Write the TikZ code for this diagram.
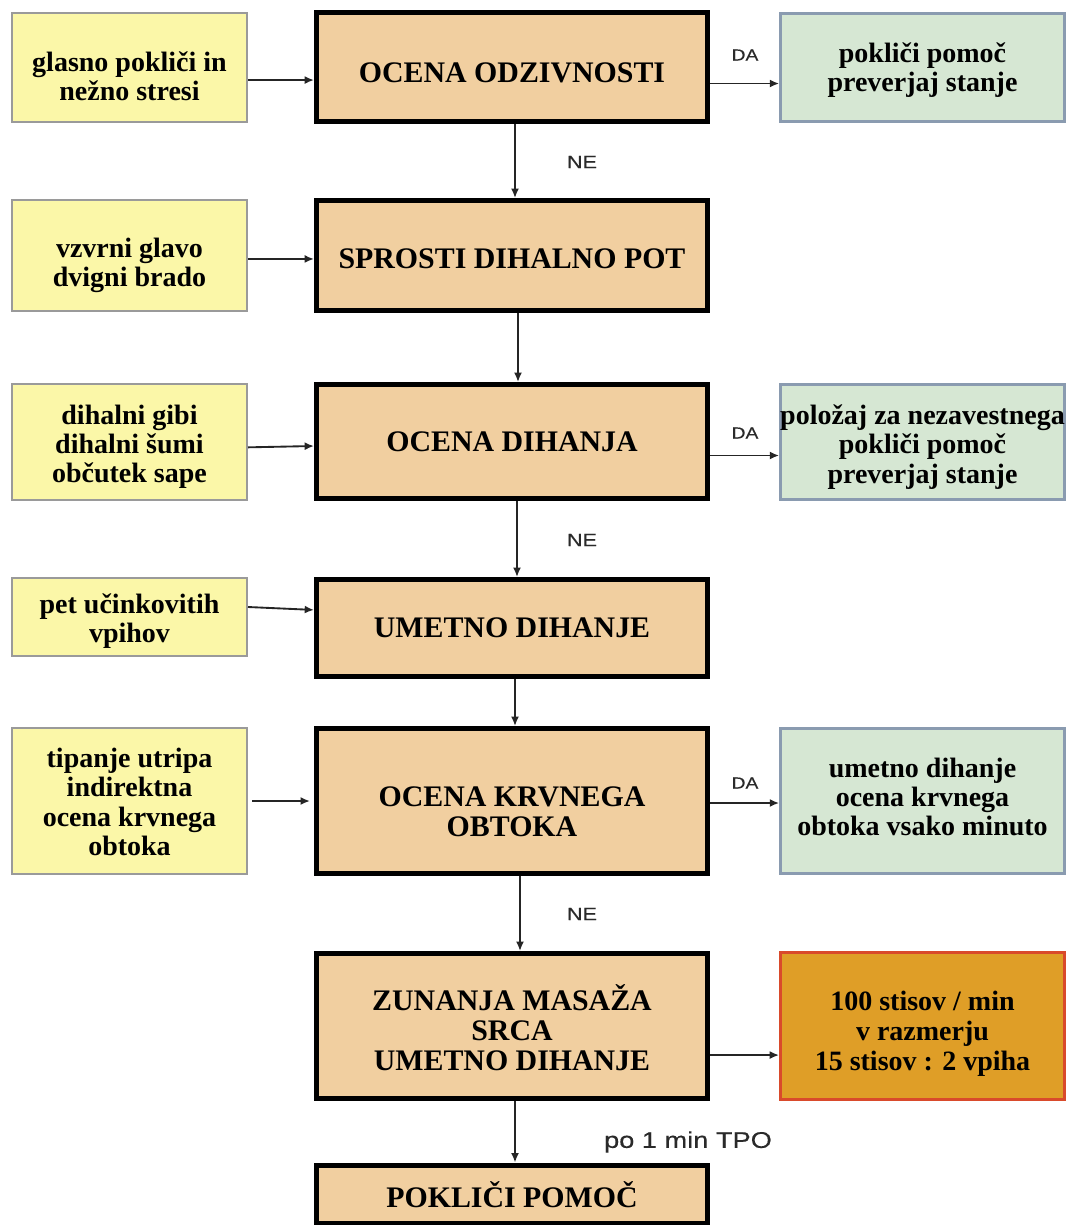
\documentclass[tikz,border=0pt]{standalone}
\usepackage{fontspec}
\setmainfont{Liberation Serif}
\newfontfamily\lblfont[FakeStretch=1.2,FakeBold=0.4]{Liberation Sans}
\usetikzlibrary{arrows.meta}
\definecolor{mainfill}{HTML}{F1CFA0}
\definecolor{yelfill}{HTML}{FBF7A8}
\definecolor{yelline}{HTML}{9A9A9A}
\definecolor{grnfill}{HTML}{D6E7D3}
\definecolor{grnline}{HTML}{8A9BB0}
\definecolor{orgfill}{HTML}{DF9E27}
\definecolor{orgline}{HTML}{D94A2B}
\definecolor{arrcol}{HTML}{252525}
\definecolor{lblcol}{HTML}{2A2A2A}
\begin{document}
\begin{tikzpicture}[x=0.75pt,y=-0.75pt,
  mainbox/.style={draw=black, line width=3.75pt, fill=mainfill, inner sep=0pt, minimum width={391*0.75pt}},
  yelbox/.style={draw=yelline, line width=1.5pt, fill=yelfill, inner sep=0pt, minimum width={235*0.75pt}},
  grnbox/.style={draw=grnline, line width=2pt, fill=grnfill, inner sep=0pt, minimum width={284*0.75pt}},
  orgbox/.style={draw=orgline, line width=2.2pt, fill=orgfill, inner sep=0pt, minimum width={284*0.75pt}},
  maintxt/.style={align=center, inner sep=0pt, font=\fontsize{22.4}{22.5}\selectfont\bfseries},
  smalltxt/.style={align=center, inner sep=0pt, font=\fontsize{21}{21.9}\selectfont\bfseries},
  orgtxt/.style={align=center, inner sep=0pt, font=\fontsize{21}{22.5}\selectfont\bfseries},
  arr/.style={draw=arrcol, line width=1.4pt, -{Latex[length=7pt,width=6pt]}},
  lbl/.style={text=lblcol, inner sep=0pt, font=\lblfont\fontsize{12}{12}\selectfont},
  lblne/.style={text=lblcol, inner sep=0pt, font=\lblfont\fontsize{13.5}{13.5}\selectfont},
  lbltpo/.style={text=lblcol, inner sep=0pt, font=\lblfont\fontsize{17}{17}\selectfont},
]
\path[use as bounding box, fill=white] (0,0) rectangle (1067,1225);

% main column boxes
\node[mainbox, minimum height={109*0.75pt}] (m1) at (512,67) {};
\node[mainbox, minimum height={110*0.75pt}] (m2) at (512,255.5) {};
\node[mainbox, minimum height={114*0.75pt}] (m3) at (512,441.5) {};
\node[mainbox, minimum height={97*0.75pt}] (m4) at (512,628) {};
\node[mainbox, minimum height={145*0.75pt}] (m5) at (512,801) {};
\node[mainbox, minimum height={145*0.75pt}] (m6) at (512,1026) {};
\node[mainbox, minimum height={58*0.75pt}] (m7) at (512,1194) {};
\node[maintxt] (m1t) at ([yshift=-4.5pt]m1.center) {OCENA ODZIVNOSTI};
\node[maintxt] (m2t) at ([yshift=-2.25pt]m2.center) {SPROSTI DIHALNO POT};
\node[maintxt] (m3t) at (m3.center) {OCENA DIHANJA};
\node[maintxt] (m4t) at (m4.center) {UMETNO DIHANJE};
\node[maintxt] (m5t) at ([yshift=-8.25pt]m5.center) {OCENA KRVNEGA\\OBTOKA};
\node[maintxt] (m6t) at ([yshift=-1.5pt]m6.center) {ZUNANJA MASAŽA\\SRCA\\UMETNO DIHANJE};
\node[maintxt] (m7t) at ([yshift=-0.75pt]m7.center) {POKLIČI POMOČ};

% left column
\node[yelbox, minimum height={109*0.75pt}] (l1) at (129.5,67.5) {};
\node[yelbox, minimum height={111*0.75pt}] (l2) at (129.5,255.5) {};
\node[yelbox, minimum height={116*0.75pt}] (l3) at (129.5,442) {};
\node[yelbox, minimum height={78*0.75pt}] (l4) at (129.5,617) {};
\node[yelbox, minimum height={146*0.75pt}] (l5) at (129.5,801) {};
\node[smalltxt] (l1t) at ([yshift=-6.75pt]l1.center) {glasno pokliči in\\nežno stresi};
\node[smalltxt] (l2t) at ([yshift=-7.5pt]l2.center) {vzvrni glavo\\dvigni brado};
\node[smalltxt] (l3t) at ([yshift=-3.75pt]l3.center) {dihalni gibi\\dihalni šumi\\občutek sape};
\node[smalltxt] (l4t) at ([yshift=-3pt]l4.center) {pet učinkovitih\\vpihov};
\node[smalltxt] (l5t) at ([yshift=-0.75pt]l5.center) {tipanje utripa\\indirektna\\ocena krvnega\\obtoka};

% right column
\node[grnbox, minimum height={108*0.75pt}] (g1) at (922.5,67.5) {};
\node[grnbox, minimum height={115*0.75pt}] (g2) at (922.5,442) {};
\node[grnbox, minimum height={145*0.75pt}] (g3) at (922.5,801) {};
\node[orgbox, minimum height={147*0.75pt}] (o1) at (922.5,1026) {};
\node[smalltxt] (g1t) at ([yshift=-2.25pt]g1.center) {pokliči pomoč\\preverjaj stanje};
\node[smalltxt] (g2t) at ([yshift=-3.75pt]g2.center) {položaj za nezavestnega\\pokliči pomoč\\preverjaj stanje};
\node[smalltxt] (g3t) at ([yshift=3pt]g3.center) {umetno dihanje\\ocena krvnega\\obtoka vsako minuto};
\node[orgtxt] (o1t) at ([yshift=-5.5pt]o1.center) {100 stisov / min\\v razmerju\\15 stisov : 2 vpiha};

% left arrows
\draw[arr] ([yshift=-9.4pt]l1.east) -- ([yshift=-9.4pt]l1.east -| m1.west);
\draw[arr] ([yshift=-2.6pt]l2.east) -- ([yshift=-2.6pt]l2.east -| m2.west);
\draw[arr] ([yshift=-4pt]l3.east) -- ([yshift=-3pt]l3.east -| m3.west);
\draw[arr] ([yshift=7.5pt]l4.east) -- ([yshift=5.3pt]l4.east -| m4.west);
\draw[arr, shorten <=3pt, shorten >=3pt] (l5.east) -- (l5.east -| m5.west);

% right arrows
\draw[arr] ([yshift=-12.4pt]m1.east) -- ([yshift=-12.4pt]m1.east -| g1.west);
\draw[arr] ([yshift=-10.5pt]m3.east) -- ([yshift=-10.5pt]m3.east -| g2.west);
\draw[arr] ([yshift=-1.5pt]m5.east) -- ([yshift=-1.5pt]m5.east -| g3.west);
\draw[arr] ([yshift=-21.8pt]m6.east) -- ([yshift=-21.8pt]m6.east -| o1.west);

% vertical arrows
\draw[arr] ([xshift=2.25pt]m1.south) -- ([xshift=2.25pt]m2.north);
\draw[arr] ([xshift=4.5pt]m2.south) -- ([xshift=4.5pt]m3.north);
\draw[arr] ([xshift=3.75pt]m3.south) -- ([xshift=3.75pt]m4.north);
\draw[arr] ([xshift=2.25pt]m4.south) -- ([xshift=2.25pt]m5.north);
\draw[arr] ([xshift=6pt]m5.south) -- ([xshift=6pt]m6.north);
\draw[arr] ([xshift=2.25pt]m6.south) -- ([xshift=2.25pt]m7.north);

% labels
\node[lbl] (da1) at (745,55) {DA};
\node[lbl] (da2) at (745,433) {DA};
\node[lbl] (da3) at (745,783) {DA};
\node[lblne] (ne1) at (582,162) {NE};
\node[lblne] (ne2) at (582,540) {NE};
\node[lblne] (ne3) at (582,914) {NE};
\node[lbltpo] (tpo) at (688,1142) {po 1 min TPO};
\end{tikzpicture}
\end{document}
